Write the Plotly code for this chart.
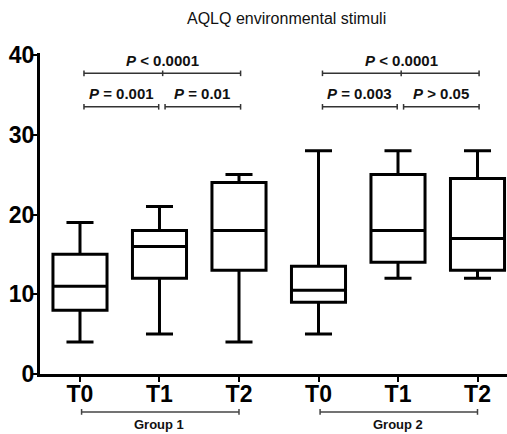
import plotly.graph_objects as go

categories = ["T0", "T1", "T2", "T0", "T1", "T2"]
groups = ["Group 1", "Group 2"]
lower = [4, 5, 4, 5, 12, 12]
q1 = [8, 12, 13, 9, 14, 13]
median = [11, 16, 18, 10.5, 18, 17]
q3 = [15, 18, 24, 13.5, 25, 24.5]
upper = [19, 21, 25, 28, 28, 28]
p_labels = ["P = 0.001", "P = 0.01", "P < 0.0001", "P = 0.003", "P > 0.05", "P < 0.0001"]

positions = list(range(len(categories)))
FONT = "Liberation Sans, Arial, sans-serif"

fig = go.Figure()
for i, pos in enumerate(positions):
    fig.add_trace(go.Box(
        x=[pos], q1=[q1[i]], median=[median[i]], q3=[q3[i]],
        lowerfence=[lower[i]], upperfence=[upper[i]],
        width=0.68, whiskerwidth=0.5,
        line=dict(color="black", width=3), fillcolor="white",
        boxpoints=False, showlegend=False, hoverinfo="skip",
    ))

shapes = []
annotations = []
LC = "#333333"

def bracket(x0, x1, y, cap=0.35, mid=None):
    shapes.append(dict(type="line", xref="x", yref="y", x0=x0, x1=x1, y0=y, y1=y, line=dict(color=LC, width=1.5)))
    for xx in [x0, x1] + ([mid] if mid is not None else []):
        shapes.append(dict(type="line", xref="x", yref="y", x0=xx, x1=xx, y0=y - cap, y1=y + cap, line=dict(color=LC, width=1.5)))

def ptext(x, y, t):
    sym, rest = t.split(" ", 1)
    annotations.append(dict(x=x, y=y, xref="x", yref="y", showarrow=False,
                            text=f"<b><i>{sym}</i> {rest}</b>",
                            font=dict(family=FONT, size=15, color="#111")))

for g in range(2):
    b = g * 3
    lo_y, hi_y = 33.5, 37.7
    bracket(b + 0.05, b + 0.99, lo_y)
    bracket(b + 1.07, b + 2.02, lo_y)
    bracket(b + 0.05, b + 2.02, hi_y, mid=b + 1.04)
    ptext(b + 0.52, 35.2, p_labels[g * 3])
    ptext(b + 1.54, 35.2, p_labels[g * 3 + 1])
    ptext(b + 1.04, 39.3, p_labels[g * 3 + 2])
    # group line
    gy = -0.118
    shapes.append(dict(type="line", xref="x", yref="paper", x0=b + 0.02, x1=b + 2.0, y0=gy, y1=gy, line=dict(color="#444", width=1.5)))
    for xx in [b + 0.02, b + 2.0]:
        shapes.append(dict(type="line", xref="x", yref="paper", x0=xx, x1=xx, y0=gy - 0.009, y1=gy + 0.009, line=dict(color="#444", width=1.5)))
    annotations.append(dict(x=b + 1.0, y=-0.183, xref="x", yref="paper", yanchor="bottom", showarrow=False,
                            borderpad=0,
                            text=f"<b>{groups[g]}</b>", font=dict(family=FONT, size=13, color="#111")))

annotations.append(dict(xref="paper", yref="paper", x=(286 - 40) / 467, y=(374 - 18) / 321, yanchor="middle",
                        showarrow=False, text="AQLQ environmental stimuli",
                        font=dict(family=FONT, size=16, color="#111")))

fig.update_layout(
    width=507, height=434,
    margin=dict(l=40, r=0, t=53, b=60),
    paper_bgcolor="white", plot_bgcolor="white",
    boxmode="overlay",
    shapes=shapes, annotations=annotations,
    xaxis=dict(range=[-0.503, 5.371], tickmode="array", tickvals=positions, ticktext=categories,
               showline=True, linecolor="black", linewidth=3, ticks="outside", ticklen=5, tickwidth=2,
               tickcolor="black", showgrid=False, zeroline=False, ticklabelstandoff=-8,
               tickfont=dict(family=FONT, size=23, color="black", weight="bold")),
    yaxis=dict(range=[0, 40.25], tickmode="array", tickvals=[0, 10, 20, 30, 40],
               showline=True, linecolor="black", linewidth=3, ticks="outside", ticklen=5, tickwidth=2,
               tickcolor="black", showgrid=False, zeroline=False, ticklabelstandoff=-7,
               tickfont=dict(family=FONT, size=23, color="black", weight="bold")),
)

fig.write_html("out.html")
